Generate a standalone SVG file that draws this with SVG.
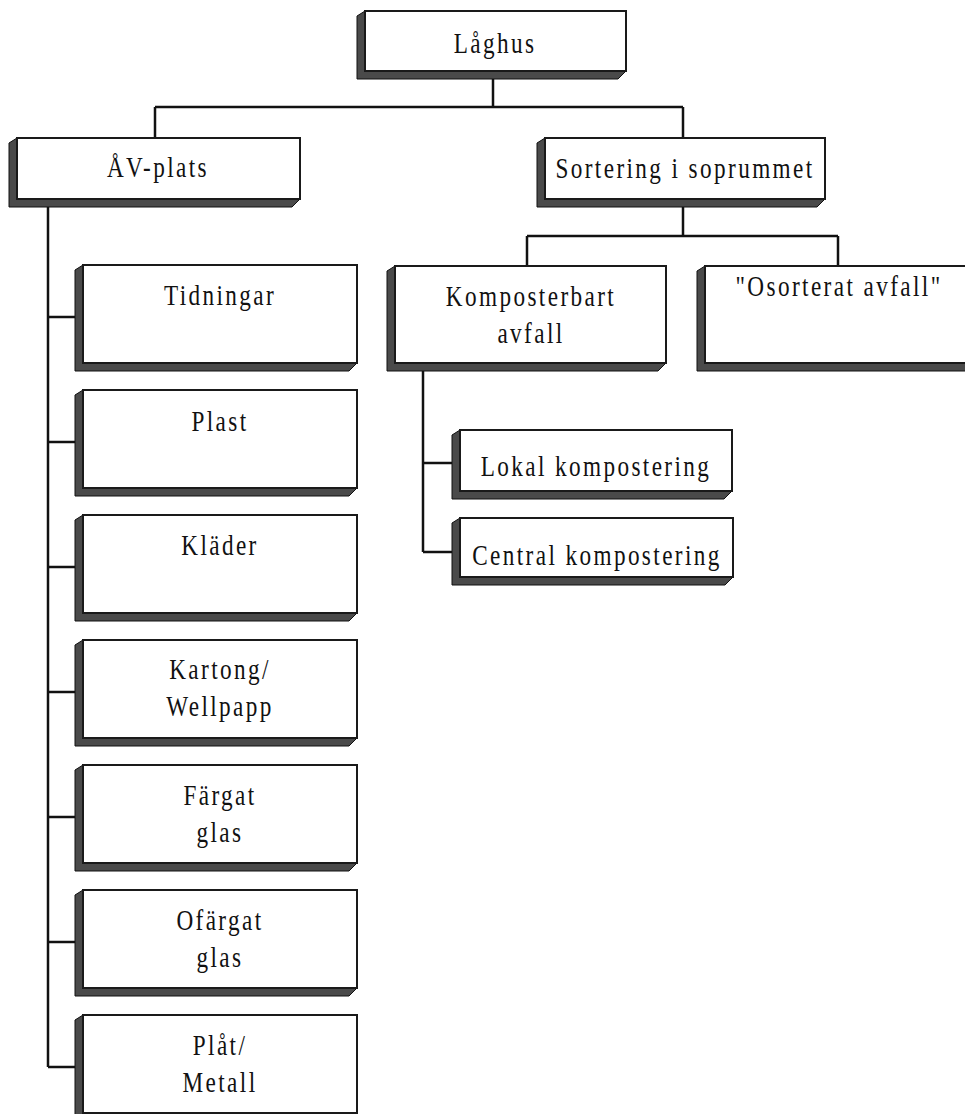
<svg xmlns="http://www.w3.org/2000/svg" width="965" height="1114" viewBox="0 0 965 1114">
  <style>
    .shade { fill: #4a4a4a; stroke: #111; stroke-width: 1; }
    .face { fill: #fff; stroke: #1a1a1a; stroke-width: 2; }
    .lbl { font-family: "Liberation Serif", "Times New Roman", serif; font-size: 29px; letter-spacing: 3px; fill: #111; text-anchor: middle; }
    .conn { fill: none; stroke: #111; stroke-width: 2.5; }
  </style>
  <rect x="0" y="0" width="965" height="1114" fill="#fff"/>

  <!-- connectors -->
  <g id="connectors" class="conn">
    <path d="M493,79 V107 M155,107 H683 M155,107 V138 M683,107 V138"/>
    <path d="M683,207 V236 M527,236 H838 M527,236 V266 M838,236 V266"/>
    <path d="M423,371 V552 M423,463 H452 M423,552 H452"/>
    <path d="M48,207 V1067 M48,317 H76 M48,442 H76 M48,567 H76 M48,692 H76 M48,817 H76 M48,942 H76 M48,1067 H76"/>
  </g>

  <!-- root -->
  <g id="node-laghus">
    <polygon class="shade" points="365,11 357,16 357,79 618,79 626,71 365,71"/>
    <rect class="face" x="365" y="11" width="261" height="60"/>
    <text class="lbl" transform="translate(495,53) scale(0.8,1)">Låghus</text>
  </g>

  <g id="node-avplats">
    <polygon class="shade" points="17,138 9,143 9,207 292,207 300,199 17,199"/>
    <rect class="face" x="17" y="138" width="283" height="61"/>
    <text class="lbl" transform="translate(158,177) scale(0.8,1)">ÅV-plats</text>
  </g>

  <g id="node-sortering">
    <polygon class="shade" points="545,138 537,143 537,207 817,207 825,199 545,199"/>
    <rect class="face" x="545" y="138" width="280" height="61"/>
    <text class="lbl" transform="translate(685,178) scale(0.8,1)">Sortering i soprummet</text>
  </g>

  <!-- ÅV-plats children -->
  <g id="node-tidningar">
    <polygon class="shade" points="83,265 75,270 75,371 349,371 357,363 83,363"/>
    <rect class="face" x="83" y="265" width="274" height="98"/>
    <text class="lbl" transform="translate(220,305) scale(0.8,1)">Tidningar</text>
  </g>
  <g id="node-plast">
    <polygon class="shade" points="83,390 75,395 75,496 349,496 357,488 83,488"/>
    <rect class="face" x="83" y="390" width="274" height="98"/>
    <text class="lbl" transform="translate(220,431) scale(0.8,1)">Plast</text>
  </g>
  <g id="node-klader">
    <polygon class="shade" points="83,515 75,520 75,621 349,621 357,613 83,613"/>
    <rect class="face" x="83" y="515" width="274" height="98"/>
    <text class="lbl" transform="translate(220,555) scale(0.8,1)">Kläder</text>
  </g>
  <g id="node-kartong">
    <polygon class="shade" points="83,640 75,645 75,746 349,746 357,738 83,738"/>
    <rect class="face" x="83" y="640" width="274" height="98"/>
    <text class="lbl" transform="translate(220,679) scale(0.8,1)">Kartong/</text>
    <text class="lbl" transform="translate(220,716) scale(0.8,1)">Wellpapp</text>
  </g>
  <g id="node-fargat">
    <polygon class="shade" points="83,765 75,770 75,871 349,871 357,863 83,863"/>
    <rect class="face" x="83" y="765" width="274" height="98"/>
    <text class="lbl" transform="translate(220,805) scale(0.8,1)">Färgat</text>
    <text class="lbl" transform="translate(220,842) scale(0.8,1)">glas</text>
  </g>
  <g id="node-ofargat">
    <polygon class="shade" points="83,890 75,895 75,996 349,996 357,988 83,988"/>
    <rect class="face" x="83" y="890" width="274" height="98"/>
    <text class="lbl" transform="translate(220,930) scale(0.8,1)">Ofärgat</text>
    <text class="lbl" transform="translate(220,967) scale(0.8,1)">glas</text>
  </g>
  <g id="node-plat">
    <polygon class="shade" points="83,1015 75,1020 75,1121 349,1121 357,1113 83,1113"/>
    <rect class="face" x="83" y="1015" width="274" height="98"/>
    <text class="lbl" transform="translate(220,1055) scale(0.8,1)">Plåt/</text>
    <text class="lbl" transform="translate(220,1092) scale(0.8,1)">Metall</text>
  </g>

  <!-- sorting room children -->
  <g id="node-komposterbart">
    <polygon class="shade" points="395,266 387,271 387,371 658,371 666,363 395,363"/>
    <rect class="face" x="395" y="266" width="271" height="97"/>
    <text class="lbl" transform="translate(531,306) scale(0.8,1)">Komposterbart</text>
    <text class="lbl" transform="translate(531,343) scale(0.8,1)">avfall</text>
  </g>
  <g id="node-osorterat">
    <polygon class="shade" points="705,266 697,271 697,371 977,371 985,363 705,363"/>
    <rect class="face" x="705" y="266" width="280" height="97"/>
    <text class="lbl" transform="translate(839,296) scale(0.8,1)">"Osorterat avfall"</text>
  </g>

  <!-- compostable children -->
  <g id="node-lokal">
    <polygon class="shade" points="460,430 452,435 452,499 724,499 732,491 460,491"/>
    <rect class="face" x="460" y="430" width="272" height="61"/>
    <text class="lbl" transform="translate(596,476) scale(0.8,1)">Lokal kompostering</text>
  </g>
  <g id="node-central">
    <polygon class="shade" points="460,518 452,523 452,585 725,585 733,577 460,577"/>
    <rect class="face" x="460" y="518" width="273" height="59"/>
    <text class="lbl" transform="translate(597,565) scale(0.8,1)">Central kompostering</text>
  </g>
</svg>
